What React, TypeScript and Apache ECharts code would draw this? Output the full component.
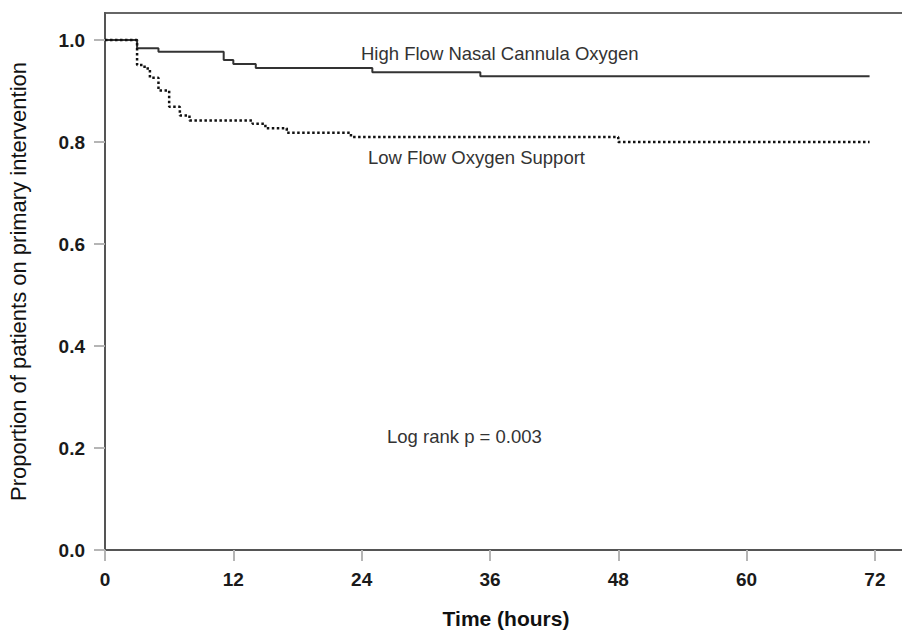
import React, { useEffect, useRef } from "react";
import * as echarts from "echarts";

const xTicks = [0, 12, 24, 36, 48, 60, 72];
const yTicks = [0, 0.2, 0.4, 0.6, 0.8, 1.0];

const hfncTimes = [0, 3.0, 5.0, 11.1, 12.0, 14.1, 25.0, 35.1, 71.5];
const hfncSurv = [1.0, 0.984, 0.977, 0.961, 0.953, 0.945, 0.937, 0.929, 0.929];

const lfosTimes = [0, 3.0, 3.7, 4.2, 5.0, 6.0, 7.0, 7.9, 13.8, 15.0, 17.0, 23.0, 48.0, 71.5];
const lfosSurv = [1.0, 0.951, 0.944, 0.926, 0.901, 0.869, 0.852, 0.842, 0.836, 0.827, 0.818, 0.81, 0.8, 0.8];

const hfncName = "High Flow Nasal Cannula Oxygen";
const lfosName = "Low Flow Oxygen Support";
const statText = "Log rank p = 0.003";

const FONT = '"Liberation Sans", Arial, sans-serif';

export default function App() {
  const ref = useRef<HTMLDivElement>(null);
  useEffect(() => {
    if (!ref.current) return;
    const chart = echarts.init(ref.current, undefined, { renderer: "svg" });
    const hfnc = hfncTimes.map((t, i) => [t, hfncSurv[i]]);
    const lfos = lfosTimes.map((t, i) => [t, lfosSurv[i]]);
    chart.setOption({
      animation: false,
      backgroundColor: "#ffffff",
      textStyle: { fontFamily: FONT },
      grid: {
        left: 105,
        top: 13,
        right: -5,
        bottom: 81,
        show: true,
        borderColor: "#666",
        borderWidth: 2,
        containLabel: false,
        outerBoundsMode: "none",
      },
      xAxis: {
        type: "value",
        min: 0,
        max: 75,
        interval: 12,
        name: "Time (hours)",
        nameLocation: "middle",
        nameGap: 58,
        nameTextStyle: { fontFamily: FONT, fontWeight: "bold", fontSize: 21, color: "#111" },
        axisLine: { show: true, lineStyle: { color: "#555", width: 2 } },
        axisTick: { show: true, length: 11, customValues: xTicks, lineStyle: { color: "#b5b5b5", width: 2 } },
        axisLabel: {
          customValues: xTicks,
          margin: 20,
          fontFamily: FONT,
          fontWeight: "bold",
          fontSize: 19,
          color: "#1a1a1a",
          formatter: (v: number) => String(v),
        },
        splitLine: { show: false },
      },
      yAxis: {
        type: "value",
        min: 0,
        max: 1.053,
        interval: 0.2,
        name: "Proportion of patients on primary intervention",
        nameLocation: "middle",
        nameGap: 76,
        nameTextStyle: { fontFamily: FONT, fontSize: 22, color: "#111" },
        axisLine: { show: true, lineStyle: { color: "#555", width: 2 } },
        axisTick: { show: true, length: 11, customValues: yTicks, lineStyle: { color: "#b5b5b5", width: 2 } },
        axisLabel: {
          customValues: yTicks,
          margin: 20,
          fontFamily: FONT,
          fontWeight: "bold",
          fontSize: 19,
          color: "#1a1a1a",
          formatter: (v: number) => v.toFixed(1),
        },
        splitLine: { show: false },
      },
      series: [
        {
          name: hfncName,
          type: "line",
          step: "end",
          data: hfnc,
          showSymbol: false,
          symbol: "none",
          lineStyle: { color: "#333", width: 2, type: "solid" },
        },
        {
          name: lfosName,
          type: "line",
          step: "end",
          data: lfos,
          showSymbol: false,
          symbol: "none",
          lineStyle: { color: "#111", width: 2.5, type: [2.5, 2.5] },
        },
      ],
      graphic: [
        {
          type: "text",
          x: 361,
          y: 53,
          style: { text: hfncName, font: `18.5px ${FONT}`, fill: "#333", align: "left", verticalAlign: "middle" },
        },
        {
          type: "text",
          x: 368,
          y: 157,
          style: { text: lfosName, font: `18.5px ${FONT}`, fill: "#333", align: "left", verticalAlign: "middle" },
        },
        {
          type: "text",
          x: 387,
          y: 436,
          style: { text: statText, font: `18.5px ${FONT}`, fill: "#333", align: "left", verticalAlign: "middle" },
        },
      ],
    });
    return () => chart.dispose();
  }, []);
  return <div ref={ref} style={{ position: "fixed", left: 0, top: 0, width: 902, height: 631 }} />;
}
